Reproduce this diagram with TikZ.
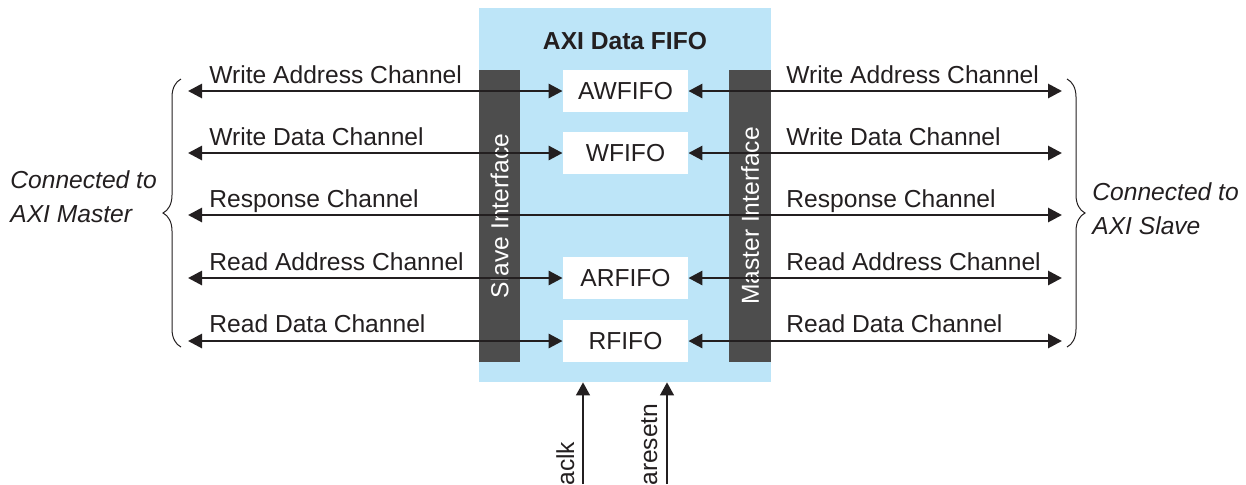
\documentclass[tikz,border=0pt]{standalone}
\usepackage{fontspec}
\setmainfont{Liberation Sans}
\usetikzlibrary{arrows.meta,decorations.pathreplacing}
\definecolor{fifoblue}{HTML}{BDE5F8}
\definecolor{bargray}{HTML}{4D4D4D}
\definecolor{ink}{HTML}{231F20}
\begin{document}
\begin{tikzpicture}[x=0.5pt,y=-0.5pt,
  font=\fontsize{12.3}{15}\selectfont, text=ink,
  fifobox/.style={fill=white, minimum width=62.5pt, minimum height=21pt, inner sep=0pt},
  bar/.style={fill=bargray, minimum width=146pt, minimum height=20.5pt, rotate=90, text=white, inner sep=0pt},
  chan/.style={line width=1.4pt, draw=ink, {Triangle[length=7pt,width=7pt]}-{Triangle[length=7pt,width=7pt]}},
  sig/.style={line width=0.7pt, draw=ink, -{Triangle[length=6.5pt,width=7pt]}},
  lbl/.style={anchor=base west, inner sep=0pt},
  side/.style={anchor=base west, inner sep=0pt, font=\fontsize{12.3}{15}\selectfont\itshape},
  bracestyle/.style={draw=ink, line width=0.5pt, decorate, decoration={brace, amplitude=9pt}}
]
\useasboundingbox (0,0) rectangle (1246,484);

% main block
\node[fill=fifoblue, minimum width=146pt, minimum height=187pt, inner sep=0pt] (fifo) at (625,195) {};
\node[font=\fontsize{12.3}{15}\selectfont\bfseries, inner sep=0pt] (title) at (625,41) {AXI Data FIFO};

% interface bars
\node[bar] (slave) at (499.5,216) {Slave Interface};
\node[bar, minimum height=21pt] (master) at (750,216) {Master Interface};

% FIFOs
\node[fifobox] (aw) at (625.5,91) {AWFIFO};
\node[fifobox] (w)  at (625.5,153) {WFIFO};
\node[fifobox] (ar) at (625.5,278) {ARFIFO};
\node[fifobox] (r)  at (625.5,341) {RFIFO};

% end points
\coordinate (lAW) at (188,91);  \coordinate (rAW) at (1062,91);
\coordinate (lW)  at (188,153); \coordinate (rW)  at (1062,153);
\coordinate (lB)  at (188,215); \coordinate (rB)  at (1062,215);
\coordinate (lAR) at (188,278); \coordinate (rAR) at (1062,278);
\coordinate (lR)  at (188,341); \coordinate (rR)  at (1062,341);

% channels
\draw[chan] (lAW) -- (aw.west);  \draw[chan] (aw.east) -- (rAW);
\draw[chan] (lW) -- (w.west);    \draw[chan] (w.east) -- (rW);
\draw[chan] (lB) -- (rB);
\draw[chan] (lAR) -- (ar.west);  \draw[chan] (ar.east) -- (rAR);
\draw[chan] (lR) -- (r.west);    \draw[chan] (r.east) -- (rR);

% channel labels
\node[lbl] (tl1) at (209,83)  {Write Address Channel};
\node[lbl] (tl2) at (209,145) {Write Data Channel};
\node[lbl] (tl3) at (209,207) {Response Channel};
\node[lbl] (tl4) at (209,270) {Read Address Channel};
\node[lbl] (tl5) at (209,332) {Read Data Channel};
\node[lbl] (tr1) at (786,83)  {Write Address Channel};
\node[lbl] (tr2) at (786,145) {Write Data Channel};
\node[lbl] (tr3) at (786,207) {Response Channel};
\node[lbl] (tr4) at (786,270) {Read Address Channel};
\node[lbl] (tr5) at (786,332) {Read Data Channel};

% braces
\coordinate (lbB) at (181,347); \coordinate (lbT) at (181,79);
\coordinate (rbT) at (1067,79); \coordinate (rbB) at (1067,347);
\draw[bracestyle] (lbB) -- (lbT);
\draw[bracestyle] (rbT) -- (rbB);

\node[side] (m1) at (10,188) {Connected to};
\node[side] (m2) at (10,222) {AXI Master};
\node[side] (s1) at (1092,200) {Connected to};
\node[side] (s2) at (1092,234) {AXI Slave};

% clock and reset
\coordinate (clkS) at (583,484);
\coordinate (rstS) at (667,484);
\draw[sig] (clkS) -- (clkS |- fifo.south);
\draw[sig] (rstS) -- (rstS |- fifo.south);
\node[rotate=90, anchor=base west, inner sep=0pt] (clkl) at (574,486) {aclk};
\node[rotate=90, anchor=base west, inner sep=0pt] (rstl) at (657,486) {aresetn};
\end{tikzpicture}
\end{document}
